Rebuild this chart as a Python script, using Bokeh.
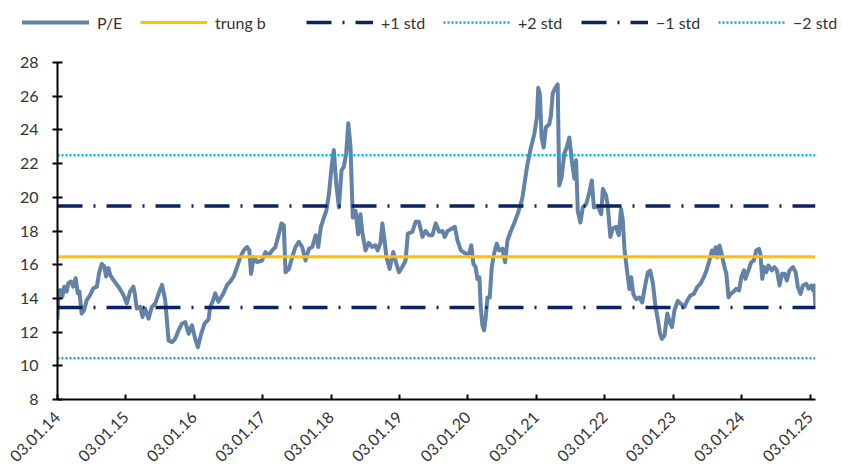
import math
import pandas as pd
from bokeh.plotting import figure
from bokeh.layouts import column
from bokeh.models import (Legend, LegendItem, FixedTicker, ColumnDataSource,
                          Range1d, DatetimeTickFormatter)
from bokeh.embed import file_html
from bokeh.resources import INLINE

# ---------------- data ----------------
dates = [
    "2014-01-03", "2014-01-07", "2014-01-16", "2014-01-29", "2014-02-08", "2014-02-21", "2014-03-02",
    "2014-03-16", "2014-03-28", "2014-04-10", "2014-04-21", "2014-04-30", "2014-05-12", "2014-05-25",
    "2014-06-08", "2014-06-26", "2014-07-13", "2014-08-01", "2014-08-13", "2014-08-27", "2014-09-10",
    "2014-09-19", "2014-10-02", "2014-10-11", "2014-10-28", "2014-11-24", "2014-12-21",
    "2015-01-08", "2015-01-25", "2015-02-12", "2015-02-21", "2015-03-02", "2015-03-20", "2015-04-02",
    "2015-04-16", "2015-05-04", "2015-05-22", "2015-06-09", "2015-06-27", "2015-07-15", "2015-08-01",
    "2015-08-19", "2015-09-06", "2015-09-23", "2015-10-11", "2015-10-29", "2015-11-16", "2015-12-04",
    "2015-12-22",
    "2016-01-08", "2016-01-22", "2016-02-09", "2016-02-27", "2016-03-19", "2016-03-28", "2016-04-13",
    "2016-04-24", "2016-05-11", "2016-06-07", "2016-06-26", "2016-07-13", "2016-07-31", "2016-08-18",
    "2016-09-05", "2016-09-23", "2016-10-11", "2016-10-23", "2016-11-01", "2016-11-15", "2016-12-03",
    "2016-12-30",
    "2017-01-17", "2017-02-04", "2017-02-22", "2017-03-11", "2017-03-29", "2017-04-12", "2017-04-25",
    "2017-05-04", "2017-05-22", "2017-06-09", "2017-06-26", "2017-07-14", "2017-08-01", "2017-08-19",
    "2017-09-06", "2017-09-24", "2017-10-12", "2017-10-26", "2017-11-08", "2017-11-25", "2017-12-08",
    "2017-12-22",
    "2018-01-05", "2018-01-17", "2018-01-30", "2018-02-13", "2018-02-27", "2018-03-11", "2018-03-24",
    "2018-04-04", "2018-04-16", "2018-04-28", "2018-05-13", "2018-05-27", "2018-06-08", "2018-06-17",
    "2018-07-05", "2018-07-22", "2018-08-09", "2018-08-27", "2018-09-08", "2018-09-23", "2018-10-03",
    "2018-10-14", "2018-10-25", "2018-11-11", "2018-11-30", "2018-12-12", "2018-12-30",
    "2019-01-17", "2019-02-04", "2019-02-16", "2019-03-12", "2019-03-30", "2019-04-16", "2019-05-05",
    "2019-05-22", "2019-06-09", "2019-06-27", "2019-07-15", "2019-08-02", "2019-08-20", "2019-09-01",
    "2019-09-16", "2019-10-03", "2019-10-25", "2019-11-08", "2019-11-26", "2019-12-23",
    "2020-01-08", "2020-01-21", "2020-02-01", "2020-02-13", "2020-02-22", "2020-03-04", "2020-03-11",
    "2020-03-20", "2020-03-29", "2020-04-07", "2020-04-16", "2020-04-28", "2020-05-09", "2020-05-21",
    "2020-06-05", "2020-06-17", "2020-07-05", "2020-07-19", "2020-08-01", "2020-08-19", "2020-09-05",
    "2020-09-24", "2020-10-08", "2020-10-20", "2020-11-02", "2020-11-16", "2020-12-04", "2020-12-22",
    "2021-01-05", "2021-01-12", "2021-01-21", "2021-01-30", "2021-02-10", "2021-02-22", "2021-03-12",
    "2021-03-21", "2021-03-30", "2021-04-11", "2021-04-26", "2021-05-04", "2021-05-17", "2021-05-31",
    "2021-06-13", "2021-06-27", "2021-07-10", "2021-07-24", "2021-08-02", "2021-08-11", "2021-08-25",
    "2021-09-07", "2021-09-25", "2021-10-12", "2021-10-25", "2021-11-05", "2021-11-26", "2021-12-14",
    "2021-12-23",
    "2022-01-09", "2022-01-18", "2022-02-01", "2022-02-14", "2022-03-03", "2022-03-18", "2022-03-30",
    "2022-04-08", "2022-04-17", "2022-04-30", "2022-05-14", "2022-05-23", "2022-06-04", "2022-06-19",
    "2022-07-06", "2022-07-21", "2022-08-02", "2022-08-20", "2022-09-02", "2022-09-16", "2022-09-30",
    "2022-10-13", "2022-10-24", "2022-11-03", "2022-11-17", "2022-12-02", "2022-12-14", "2022-12-27",
    "2023-01-09", "2023-01-27", "2023-02-14", "2023-03-03", "2023-03-18", "2023-04-04", "2023-04-23",
    "2023-05-10", "2023-05-28", "2023-06-15", "2023-06-29", "2023-07-15", "2023-07-28", "2023-08-08",
    "2023-08-17", "2023-08-26", "2023-09-07", "2023-09-16", "2023-09-29", "2023-10-13", "2023-10-25",
    "2023-11-05", "2023-11-18", "2023-12-05", "2023-12-20",
    "2024-01-01", "2024-01-15", "2024-01-23", "2024-02-08", "2024-02-23", "2024-03-08", "2024-03-21",
    "2024-04-04", "2024-04-12", "2024-04-22", "2024-05-01", "2024-05-13", "2024-05-25", "2024-06-12",
    "2024-06-26", "2024-07-09", "2024-07-23", "2024-08-05", "2024-08-19", "2024-08-31", "2024-09-14",
    "2024-10-03", "2024-10-17", "2024-10-29", "2024-11-12", "2024-11-25", "2024-12-13", "2024-12-25",
    "2025-01-09", "2025-01-18", "2025-01-24", "2025-01-31",
]
pe = [
    12.8, 13.9, 14.5, 14.1, 14.7, 14.4, 14.9,
    15.0, 14.7, 15.2, 14.3, 14.4, 13.1, 13.3,
    13.9, 14.2, 14.6, 14.7, 15.5, 16.05, 15.9,
    15.3, 15.8, 15.4, 15.1, 14.7, 14.2,
    13.7, 14.4, 14.7, 14.2, 13.4, 13.5, 12.9,
    13.4, 12.8, 13.5, 13.7, 14.3, 14.8, 13.9,
    11.5, 11.4, 11.6, 12.1, 12.5, 12.6, 11.9,
    12.4,
    11.6, 11.1, 11.9, 12.5, 12.75, 13.5, 13.9,
    14.3, 13.8, 14.3, 14.8, 15.0, 15.3, 15.85,
    16.45, 16.85, 17.05, 16.85, 15.45, 16.45, 16.15,
    16.25,
    16.75, 16.55, 16.85, 17.05, 17.8, 18.45, 18.35,
    15.55, 15.75, 16.45, 17.05, 17.35, 17.05, 16.25,
    16.95, 17.05, 17.75, 17.05, 18.2, 18.8, 19.2,
    20.2,
    21.8, 22.8, 20.8, 19.4, 21.6, 21.8, 22.6,
    24.4, 23.0, 18.8, 19.2, 17.8, 19.0, 18.0,
    16.85, 17.3, 17.05, 17.15, 16.85, 17.3, 18.45,
    17.5, 16.45, 15.75, 16.75, 16.25, 15.55,
    15.85, 16.25, 17.85, 17.95, 18.55, 18.55, 17.65,
    18.0, 17.75, 17.75, 18.45, 17.95, 18.0, 17.65,
    18.0, 18.1, 18.25, 17.45, 16.85, 16.65,
    16.65, 17.15, 16.05, 15.85, 15.15, 15.25, 13.5,
    12.4, 12.1, 12.9, 14.05, 14.05, 15.85, 16.65,
    17.25, 16.85, 16.95, 16.15, 17.45, 18.0, 18.45,
    19.0, 19.5, 20.0, 21.0, 22.0, 22.95, 23.75,
    24.75, 26.5, 26.1, 23.55, 22.95, 24.15, 24.35,
    24.85, 26.15, 26.45, 26.7, 20.7, 21.2, 22.6,
    22.95, 23.55, 22.2, 21.1, 22.2, 19.2, 18.5,
    19.4, 19.6, 20.3, 21.0, 19.4, 19.5, 19.0,
    20.5,
    20.1, 19.5, 17.65, 18.15, 18.25, 17.75, 19.3,
    18.7, 16.95, 15.75, 14.55, 15.25, 14.25, 13.95,
    14.05, 13.75, 14.55, 15.55, 15.65, 14.9, 13.5,
    12.7, 11.9, 11.6, 11.8, 13.1, 12.6, 12.3,
    13.3, 13.85, 13.67, 13.48, 13.87, 14.17, 14.27,
    14.67, 14.87, 15.26, 15.66, 16.25, 16.84, 16.65,
    17.04, 16.45, 17.14, 16.74, 16.05, 15.46, 14.07,
    14.27, 14.37, 14.57, 14.47,
    15.26, 15.66, 15.16, 15.66, 16.15, 16.25, 16.84,
    16.94, 16.65, 15.16, 15.86, 15.56, 15.95, 15.66,
    15.86, 15.66, 14.77, 15.46, 15.46, 15.06, 15.66,
    15.86, 15.56, 14.67, 14.27, 14.77, 14.87, 14.57,
    14.77, 14.47, 14.77, 13.48,
]
mean_pe = 16.47
std_pe = 3.01

tick_dates = ["2014-01-03", "2015-01-03", "2016-01-03", "2017-01-03", "2018-01-03", "2019-01-03",
              "2020-01-03", "2021-01-03", "2022-01-03", "2023-01-03", "2024-01-03", "2025-01-03"]
tick_labels = ["03.01.14", "03.01.15", "03.01.16", "03.01.17", "03.01.18", "03.01.19",
               "03.01.20", "03.01.21", "03.01.22", "03.01.23", "03.01.24", "03.01.25"]
y_ticks = [8, 10, 12, 14, 16, 18, 20, 22, 24, 26, 28]
series_labels = ["P/E", "trung b", "+1 std", "+2 std", "\u22121 std", "\u22122 std"]

# ---------------- styling ----------------
FONT = "Lato"
TXT = "#333333"
C_PE = "#6282A8"
C_MEAN = "#FFC000"
C_NAVY = "#0B2362"
C_LIGHT = "#00B0F0"
W = 842
LEGEND_X = [22, 140, 306, 443, 581, 718]   # left edge of each legend entry (px)

x = pd.to_datetime(pd.Series(dates))
x_ends = pd.to_datetime(pd.Series([dates[0], dates[-1]]))


def draw_series(fig):
    """Draw the P/E line and the reference levels; returns renderers in legend order."""
    src = ColumnDataSource(dict(x=x, y=pe))
    r_pe = fig.line("x", "y", source=src, line_color=C_PE, line_width=4,
                    line_join="round", line_cap="round")

    def hline(val, color, width, dash):
        return fig.line(x_ends, [val, val], line_color=color, line_width=width,
                        line_dash=dash, line_cap="butt")

    r_p2 = hline(mean_pe + 2 * std_pe, C_LIGHT, 2.5, "2 2")
    r_m2 = hline(mean_pe - 2 * std_pe, C_LIGHT, 2.5, "2 2")
    r_p1 = hline(mean_pe + std_pe, C_NAVY, 3.5, "25 11 2 11")
    r_m1 = hline(mean_pe - std_pe, C_NAVY, 3.5, "25 11 2 11")
    r_mean = hline(mean_pe, C_MEAN, 3, "solid")
    return [r_pe, r_mean, r_p1, r_p2, r_m1, r_m2]


def style_fig(fig):
    fig.background_fill_color = "white"
    fig.border_fill_color = "white"
    fig.outline_line_color = None
    fig.xgrid.visible = False
    fig.ygrid.visible = False
    fig.frame_align = False


# ---------------- legend strip (its own frame covers the whole strip) ----------------
lg = figure(x_axis_type="datetime", width=W, height=40,
            min_border_left=0, min_border_right=0, min_border_top=0, min_border_bottom=0,
            x_axis_location=None, y_axis_location=None,
            output_backend="svg", toolbar_location=None,
            x_range=Range1d(x_ends.iloc[0], x_ends.iloc[-1]), y_range=Range1d(100, 101))
style_fig(lg)
lr = draw_series(lg)

for i, lab in enumerate(series_labels):
    leg = Legend(items=[LegendItem(label=lab, renderers=[lr[i]])],
                 location=(LEGEND_X[i], 8), orientation="horizontal",
                 glyph_width=67, glyph_height=20, label_height=20, label_width=10,
                 label_standoff=8, padding=0, margin=0, spacing=0,
                 border_line_color=None, background_fill_alpha=0,
                 label_text_font=FONT, label_text_font_size="16px",
                 label_text_color=TXT)
    lg.add_layout(leg)

# ---------------- main chart ----------------
p = figure(x_axis_type="datetime", frame_width=758, frame_height=337,
           min_border_left=57, min_border_right=27, min_border_top=22, min_border_bottom=67,
           output_backend="svg", toolbar_location=None,
           x_range=Range1d(x_ends.iloc[0], x_ends.iloc[-1]),
           y_range=Range1d(y_ticks[0], y_ticks[-1]))
style_fig(p)
draw_series(p)

tick_ms = [pd.Timestamp(d).value / 1e6 for d in tick_dates]
p.xaxis.ticker = FixedTicker(ticks=tick_ms)
p.xaxis.formatter = DatetimeTickFormatter(days="%d.%m.%y", months="%d.%m.%y", years="%d.%m.%y")
p.xaxis.major_label_overrides = {t: lab for t, lab in zip(tick_ms, tick_labels)}
p.xaxis.major_label_orientation = math.pi / 4
p.xaxis.major_tick_in = 5
p.xaxis.major_tick_out = 0
p.xaxis.major_label_standoff = 15

p.yaxis.ticker = FixedTicker(ticks=y_ticks)
p.yaxis.major_tick_in = 5
p.yaxis.major_tick_out = 5
p.yaxis.major_label_standoff = 14

for ax in (p.xaxis, p.yaxis):
    ax.axis_line_color = "black"
    ax.axis_line_width = 2
    ax.major_tick_line_color = "black"
    ax.major_tick_line_width = 2
    ax.minor_tick_line_color = None
    ax.major_label_text_font = FONT
    ax.major_label_text_font_size = "16px"
    ax.major_label_text_color = TXT

layout = column(lg, p, spacing=0)
open("out.html", "w").write(file_html(layout, INLINE))
